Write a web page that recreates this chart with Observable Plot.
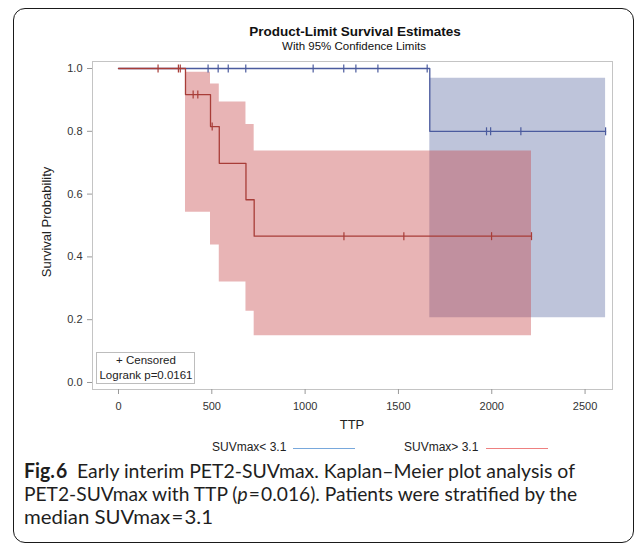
<!DOCTYPE html>
<html>
<head>
<meta charset="utf-8">
<script src="https://cdn.jsdelivr.net/npm/d3@7"></script>
<script src="https://cdn.jsdelivr.net/npm/@observablehq/plot@0.6"></script>
<style>
  html, body { margin: 0; padding: 0; background: #fff; }
  #wrap { position: relative; width: 637px; height: 546px; overflow: hidden; font-family: "Liberation Sans", Arial, sans-serif; }
  .abs { position: absolute; white-space: nowrap; line-height: 1; }
  .c { transform: translate(-50%, -50%); }
  #border { position: absolute; left: 13px; top: 8px; width: 619px; height: 533px; border: 1.5px solid #1a1a1a; border-radius: 12px; }
  #chart { position: absolute; left: 0; top: 0; }
  .cap { position: absolute; left: 24px; white-space: nowrap; line-height: 1; font-family: Lato, "Open Sans", sans-serif; font-size: 20px; color: #1e1e1e; transform-origin: 0 50%; }
</style>
</head>
<body>
<div id="wrap">
  <div id="border"></div>
  <div id="chart"></div>
</div>
<script>
// ---- data ----
const xTicks = [0, 500, 1000, 1500, 2000, 2500];
const yTicks = [0.0, 0.2, 0.4, 0.6, 0.8, 1.0];

// SUVmax < 3.1 (blue)
const lowTimes = [0, 1668, 2610];
const lowSurv  = [1.0, 0.8, 0.8];
const lowBandTimes = [1668, 2610];
const lowBandLower = [0.206, 0.206];
const lowBandUpper = [0.969, 0.969];
const lowCensorTimes = [480, 534, 588, 682, 1043, 1207, 1272, 1390, 1654, 1972, 1994, 2156, 2610];
const lowCensorSurv  = [1, 1, 1, 1, 1, 1, 1, 1, 1, 0.8, 0.8, 0.8, 0.8];

// SUVmax > 3.1 (red)
const highTimes = [0, 359, 493, 540, 683, 727, 2213];
const highSurv  = [1.0, 0.917, 0.815, 0.698, 0.582, 0.466, 0.466];
const highBandTimes = [359, 493, 540, 683, 727, 2213];
const highBandLower = [0.542, 0.438, 0.320, 0.227, 0.149, 0.149];
const highBandUpper = [0.988, 0.951, 0.893, 0.822, 0.737, 0.737];
const highCensorTimes = [212, 321, 331, 400, 425, 502, 1208, 1529, 1999, 2213];
const highCensorSurv  = [1, 1, 1, 0.917, 0.917, 0.815, 0.466, 0.466, 0.466, 0.466];

const seriesLabels = ["SUVmax< 3.1", "SUVmax> 3.1"];
const titleText = "Product-Limit Survival Estimates";
const subtitleText = "With 95% Confidence Limits";
const xLabel = "TTP";
const yLabel = "Survival Probability";
const insetLines = ["+ Censored", "Logrank p=0.0161"];

// ---- tables ----
const zip = (ts, vs) => ts.map((t, i) => ({t, s: vs[i]}));
const band = (ts, lo, hi) => ts.map((t, i) => ({t, lo: lo[i], hi: hi[i]}));
const lowLine = zip(lowTimes, lowSurv), highLine = zip(highTimes, highSurv);
const lowCens = zip(lowCensorTimes, lowCensorSurv), highCens = zip(highCensorTimes, highCensorSurv);
const lowBand = band(lowBandTimes, lowBandLower, lowBandUpper);
const highBand = band(highBandTimes, highBandLower, highBandUpper);

const blueLine = "#4b5b9e", redLine = "#a83d38";
const vtick = { draw(ctx, size) { const r = Math.sqrt(size / Math.PI); ctx.moveTo(0, -r); ctx.lineTo(0, r); } };

const chart = Plot.plot({
  width: 637, height: 440,
  marginLeft: 92, marginRight: 25, marginTop: 61, marginBottom: 51,
  style: { fontFamily: "'Liberation Sans', Arial, sans-serif", fontSize: "11px", color: "#333", background: "transparent" },
  x: { domain: [-139.3, 2647] },
  y: { domain: [-0.0223, 1.0223] },
  marks: [
    Plot.areaY(lowBand, { x: "t", y1: "lo", y2: "hi", curve: "step-after", fill: "#5c6ba2", fillOpacity: 0.4 }),
    Plot.areaY(highBand, { x: "t", y1: "lo", y2: "hi", curve: "step-after", fill: "#c64446", fillOpacity: 0.4 }),
    Plot.frame({ stroke: "#c4c4c4" }),
    Plot.axisX({ ticks: xTicks, tickSize: 5, tickPadding: 8, tickFormat: d3.format("d"), stroke: "#999", fill: "#333", label: null }),
    Plot.axisY({ ticks: yTicks, tickSize: 5, tickPadding: 5, tickFormat: d3.format(".1f"), stroke: "#999", fill: "#333", label: null }),
    Plot.line(lowLine, { x: "t", y: "s", curve: "step-after", stroke: blueLine, strokeWidth: 1.3 }),
    Plot.line(highLine, { x: "t", y: "s", curve: "step-after", stroke: redLine, strokeWidth: 1.3 }),
    Plot.dot(lowCens, { x: "t", y: "s", symbol: vtick, r: 4, stroke: blueLine, fill: "none", strokeWidth: 1.2 }),
    Plot.dot(highCens, { x: "t", y: "s", symbol: vtick, r: 4, stroke: redLine, fill: "none", strokeWidth: 1.2 })
  ]
});
document.getElementById("chart").appendChild(chart);

const wrap = document.getElementById("wrap");
function addText(html, x, y, style, center = true) {
  const d = document.createElement("div");
  d.className = "abs" + (center ? " c" : "");
  d.style.left = x + "px"; d.style.top = y + "px";
  Object.assign(d.style, style);
  d.innerHTML = html;
  wrap.appendChild(d);
  return d;
}
addText(titleText, 355, 32, { fontWeight: "bold", fontSize: "13.5px", color: "#111" });
addText(subtitleText, 354, 47, { fontSize: "11.5px", color: "#111" });
addText(xLabel, 352, 424, { fontSize: "13px", color: "#222" });
addText(yLabel, 46, 222, { fontSize: "13px", color: "#222", transform: "translate(-50%,-50%) rotate(-90deg)" });

// inset box
const box = document.createElement("div");
Object.assign(box.style, { position: "absolute", left: "96px", top: "352px", width: "99px", height: "32px", border: "1px solid #bdbdbd", background: "#fff", boxSizing: "border-box" });
wrap.appendChild(box);
addText(insetLines[0], 146, 361, { fontSize: "11.5px", color: "#222" });
addText(insetLines[1], 146, 376, { fontSize: "11.5px", color: "#222" });

// bottom legend
addText(seriesLabels[0], 212, 447, { fontSize: "12px", color: "#222", transform: "translate(0,-50%)" }, false);
addText(seriesLabels[1], 404, 447, { fontSize: "12px", color: "#222", transform: "translate(0,-50%)" }, false);
function hline(x1, x2, y, color) {
  const d = document.createElement("div");
  Object.assign(d.style, { position: "absolute", left: x1 + "px", top: y + "px", width: (x2 - x1) + "px", height: "0", borderTop: "1.5px solid " + color });
  wrap.appendChild(d);
}
hline(293, 355, 448, "#78a8dc");
hline(486, 548, 448, "#ee8080");

// caption
const capLines = [
  { html: "<b>Fig.&#8202;6</b>&ensp;Early interim PET2-SUVmax. Kaplan–Meier plot analysis of", y: 470, w: 551 },
  { html: "PET2-SUVmax with TTP (<i>p</i>&#8202;=&#8202;0.016). Patients were stratified by the", y: 493, w: 553 },
  { html: "median SUVmax&#8202;=&#8202;3.1", y: 516, w: 189 }
];
capLines.forEach(l => {
  const d = document.createElement("div");
  d.className = "cap";
  d.innerHTML = l.html;
  d.style.top = l.y + "px";
  wrap.appendChild(d);
  const r = d.getBoundingClientRect();
  const sx = l.w / r.width;
  d.style.top = (l.y - r.height / 2) + "px";
  d.style.transform = "scaleX(" + sx.toFixed(4) + ")";
});
</script>
</body>
</html>
